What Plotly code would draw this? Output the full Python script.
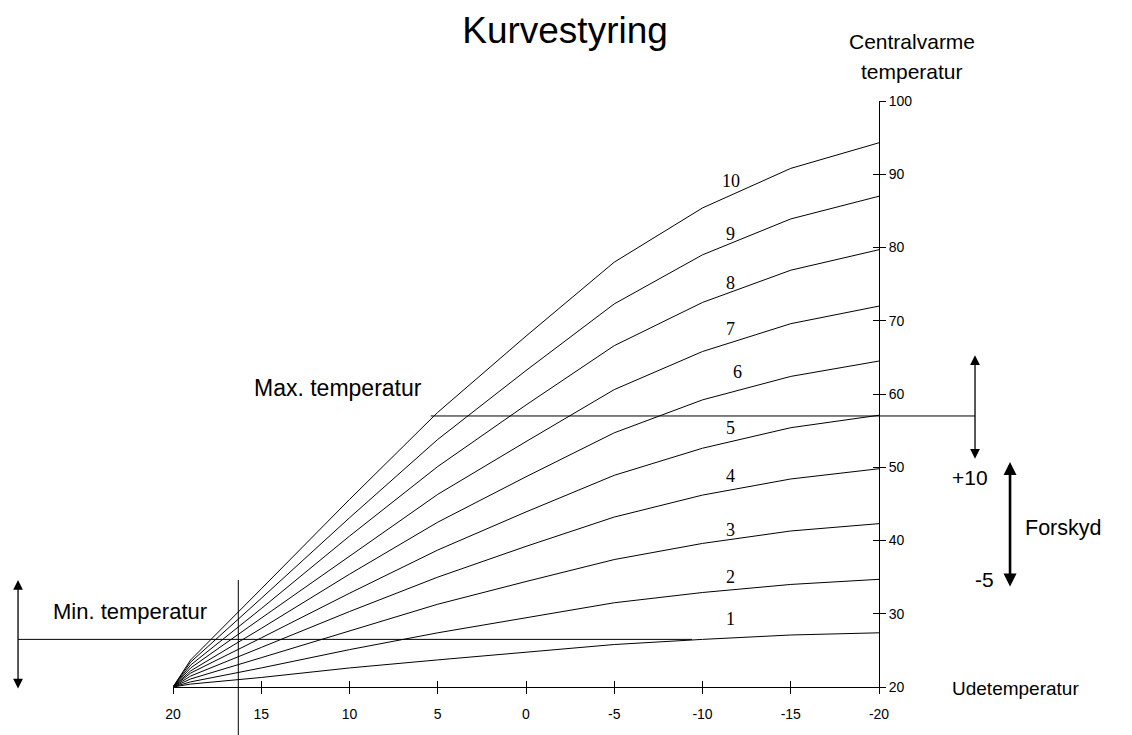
import plotly.graph_objects as go

# ---- data ----
outdoor = [20, 19, 15, 10, 5, 0, -5, -10, -15, -20]
curve_1 = [20, 20.4, 21.3, 22.6, 23.7, 24.8, 25.8, 26.5, 27.1, 27.4]
curve_2 = [20, 20.7, 22.6, 25.1, 27.4, 29.5, 31.5, 32.9, 34.0, 34.7]
curve_3 = [20, 21.1, 24.0, 27.7, 31.3, 34.4, 37.4, 39.6, 41.3, 42.3]
curve_4 = [20, 21.5, 25.4, 30.3, 35.0, 39.2, 43.2, 46.2, 48.4, 49.8]
curve_5 = [20, 21.9, 26.7, 32.8, 38.7, 43.9, 48.9, 52.6, 55.4, 57.1]
curve_6 = [20, 22.2, 28.0, 35.4, 42.5, 48.7, 54.7, 59.2, 62.4, 64.5]
curve_7 = [20, 22.6, 29.4, 37.9, 46.3, 53.5, 60.6, 65.8, 69.6, 72.0]
curve_8 = [20, 23.0, 30.7, 40.6, 50.1, 58.5, 66.6, 72.5, 76.9, 79.7]
curve_9 = [20, 23.4, 32.1, 43.1, 53.8, 63.2, 72.3, 79.0, 83.9, 87.0]
curve_10 = [20, 23.7, 33.4, 45.6, 57.5, 67.9, 78.0, 85.4, 90.8, 94.3]

curve_names = ["1", "2", "3", "4", "5", "6", "7", "8", "9", "10"]
curves = [curve_1, curve_2, curve_3, curve_4, curve_5,
          curve_6, curve_7, curve_8, curve_9, curve_10]
label_x = [-11.6, -11.6, -11.6, -11.6, -11.6, -12.0, -11.6, -11.6, -11.6, -11.6]
label_y = [29.3, 35.0, 41.4, 48.8, 55.4, 63.0, 68.9, 75.2, 81.8, 89.1]

x_ticks = [20, 15, 10, 5, 0, -5, -10, -15, -20]
y_ticks = [20, 30, 40, 50, 60, 70, 80, 90, 100]

MAX_TEMP = 57.0
MIN_TEMP = 26.5
MAX_LINE_FROM = 5.4     # where max line meets curve 10
MIN_LINE_TO = -9.4      # where min line meets curve 1
MARKER_X = 16.3         # vertical marker line

X_RANGE = [20, -20]
Y_RANGE = [20, 100]


def xp(x):
    return (X_RANGE[0] - x) / (X_RANGE[0] - X_RANGE[1])


def yp(v):
    return (v - Y_RANGE[0]) / (Y_RANGE[1] - Y_RANGE[0])


SANS = "Liberation Sans, Arial, sans-serif"
SERIF = "Liberation Serif, Times New Roman, serif"

fig = go.Figure()
for name, ys in zip(curve_names, curves):
    fig.add_trace(go.Scatter(x=outdoor, y=ys, mode="lines", name=name,
                             line=dict(color="black", width=1),
                             hoverinfo="skip", showlegend=False))
# dummy trace for overlay axes (crossing ticks)
fig.add_trace(go.Scatter(x=[None], y=[None], xaxis="x2", yaxis="y2",
                         showlegend=False, hoverinfo="skip"))

annotations = []
for name, lx, ly in zip(curve_names, label_x, label_y):
    annotations.append(dict(x=lx, y=ly, xref="x", yref="y", text=name,
                            showarrow=False,
                            font=dict(family=SERIF, size=18, color="black")))

def txt(text, px, py, size=20, xanchor="center"):
    return dict(x=px, y=py, xref="paper", yref="paper", text=text,
                showarrow=False, xanchor=xanchor, yanchor="middle",
                font=dict(family=SANS, size=size, color="black"))

annotations += [
    txt("Centralvarme", 1.047, 1.101, 21),
    txt("temperatur", 1.047, 1.050, 21),
    txt("Udetemperatur", 1.193, -0.002, 19),
    txt("Max. temperatur", 0.234, 0.510, 23),
    txt("Min. temperatur", -0.061, 0.128, 22),
    txt("+10", 1.129, 0.357, 21),
    txt("-5", 1.150, 0.183, 21),
    txt("Forskyd", 1.261, 0.271, 21.5),
]

def arrow(px, py_head, dy_px, width=1.2, size=1.0):
    return dict(x=px, y=py_head, xref="paper", yref="paper", ax=0, ay=dy_px,
                axref="pixel", ayref="pixel", text="", showarrow=True,
                arrowhead=2, startarrowhead=2, arrowside="end+start",
                arrowsize=size, startarrowsize=size, arrowwidth=width,
                arrowcolor="black")

annotations += [
    arrow(1.136, yp(65.3), 105, 1.3, 1.5),   # max temperature arrow
    arrow(-0.2195, 0.1826, 110, 1.3, 1.5),   # min temperature arrow
    arrow(1.1856, 0.384, 126, 2.6, 1.0),     # Forskyd arrow
]

shapes = [
    dict(type="line", xref="paper", yref="paper",
         x0=xp(MAX_LINE_FROM), x1=1.136, y0=yp(MAX_TEMP), y1=yp(MAX_TEMP),
         line=dict(color="black", width=1)),
    dict(type="line", xref="paper", yref="paper",
         x0=-0.2195, x1=xp(MIN_LINE_TO), y0=yp(MIN_TEMP), y1=yp(MIN_TEMP),
         line=dict(color="black", width=1)),
    dict(type="line", xref="paper", yref="paper",
         x0=xp(MARKER_X), x1=xp(MARKER_X), y0=0.1826, y1=-0.082,
         line=dict(color="black", width=1)),
]

axis_common = dict(showgrid=False, zeroline=False, showline=True,
                   linecolor="black", linewidth=1, tickcolor="black",
                   tickwidth=1, ticklen=6)

# page body has an 8px default margin, so the figure is 8px smaller
fig.update_layout(
    width=1124, height=727,
    margin=dict(l=165, r=253, t=93, b=48, autoexpand=False),
    paper_bgcolor="white", plot_bgcolor="white",
    title=dict(text="Kurvestyring", x=0.4956, y=0.9697, xref="container",
               yref="container", xanchor="center", yanchor="middle",
               font=dict(family=SANS, size=37, color="black")),
    xaxis=dict(range=X_RANGE, tickvals=x_ticks, ticktext=[str(t) for t in x_ticks],
               ticks="outside", ticklabelstandoff=8,
               tickfont=dict(family=SANS, size=14, color="black"), **axis_common),
    xaxis2=dict(range=X_RANGE, tickvals=x_ticks, overlaying="x", anchor="y",
                side="bottom", ticks="inside", showticklabels=False, **axis_common),
    yaxis=dict(range=Y_RANGE, tickvals=y_ticks, side="right", ticks="outside",
               tickfont=dict(family=SANS, size=14, color="black"), **axis_common),
    yaxis2=dict(range=Y_RANGE, tickvals=y_ticks, overlaying="y", anchor="x",
                side="right", ticks="inside", showticklabels=False, **axis_common),
    annotations=annotations,
    shapes=shapes,
    showlegend=False,
)

fig.write_html("out.html")
